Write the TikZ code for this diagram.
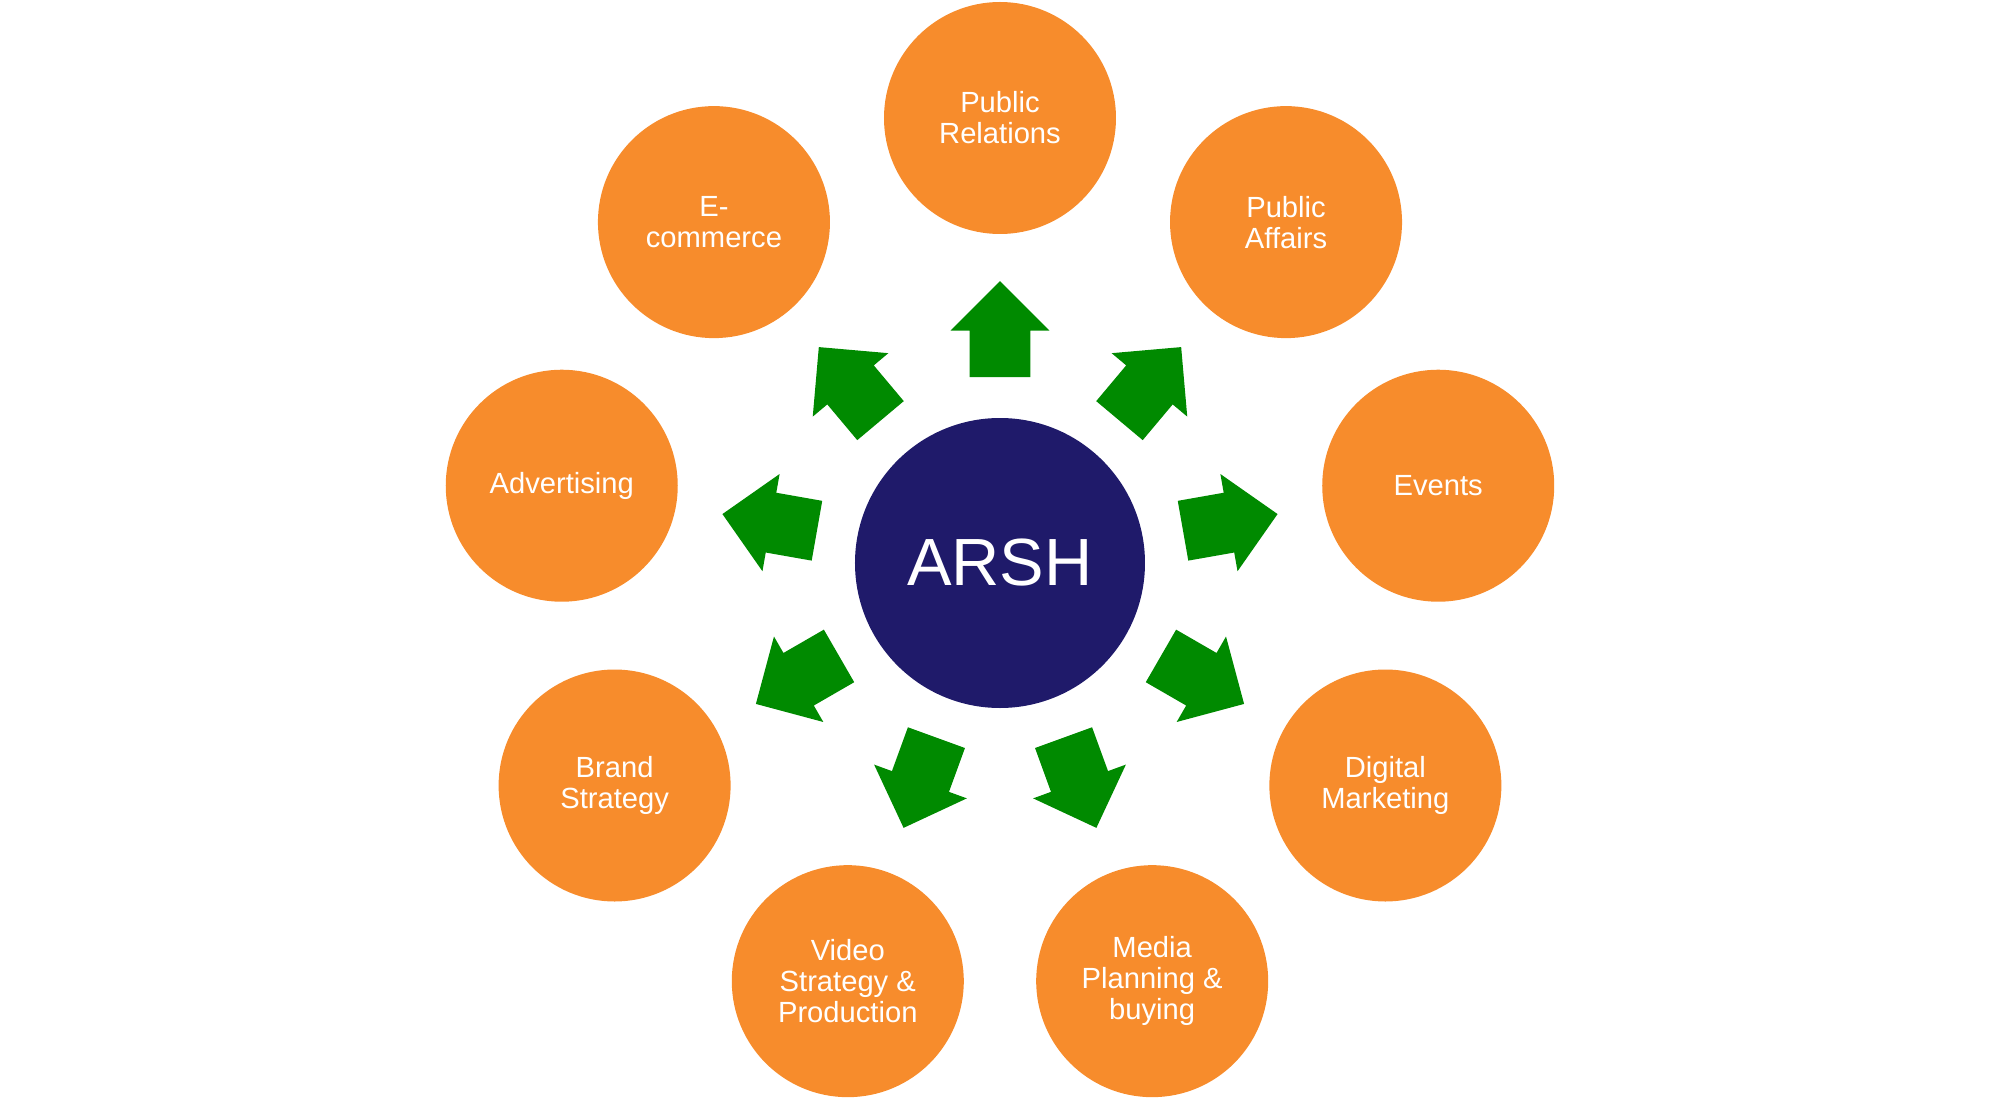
\documentclass[tikz,border=0pt]{standalone}
\usepackage{fontspec}
\setmainfont{Liberation Sans}
\usetikzlibrary{shapes.arrows}
\definecolor{arshnavy}{RGB}{31,26,106}
\definecolor{svcorange}{RGB}{247,140,44}
\definecolor{arrowgreen}{RGB}{0,138,0}

\tikzset{
  svc/.style={circle, fill=svcorange, text=white, minimum size=4.64cm, inner sep=0pt, align=center, font=\fontsize{16.6}{17.6}\selectfont},
  outarrow/.style={single arrow, fill=arrowgreen, draw=none, anchor=tail, minimum height=1.92cm, inner xsep=0pt, inner ysep=0.6cm, single arrow head extend=0.38cm},
}

\begin{document}
\begin{tikzpicture}
  \useasboundingbox (-20,-10.76) rectangle (20,11.26);
  \node[circle, fill=arshnavy, text=white, minimum size=5.8cm, inner sep=0pt, font=\fontsize{38}{40}\selectfont] (arsh) at (0,0) {ARSH};

  \node[svc] (pr) at (90:8.9) {Public\\Relations};
  \node[svc] (pa) at (50:8.9) {Public\\Affairs};
  \node[svc] (events) at (10:8.9) {Events};
  \node[svc] (digital) at (-30:8.9) {Digital\\Marketing};
  \node[svc] (media) at (-70:8.9) {Media\\Planning \&\\buying};
  \node[svc] (video) at (-110:8.9) {Video\\Strategy \&\\Production};
  \node[svc] (brand) at (-150:8.9) {Brand\\Strategy};
  \node[svc] (advert) at (170:8.9) {Advertising};
  \node[svc] (ecom) at (130:8.9) {E-\\commerce};

  \node[outarrow, rotate=90] (to-pr) at (90:3.71) {};
  \node[outarrow, rotate=50] (to-pa) at (50:3.71) {};
  \node[outarrow, rotate=10] (to-events) at (10:3.71) {};
  \node[outarrow, rotate=-30] (to-digital) at (-30:3.71) {};
  \node[outarrow, rotate=-70] (to-media) at (-70:3.71) {};
  \node[outarrow, rotate=-110] (to-video) at (-110:3.71) {};
  \node[outarrow, rotate=-150] (to-brand) at (-150:3.71) {};
  \node[outarrow, rotate=170] (to-advert) at (170:3.71) {};
  \node[outarrow, rotate=130] (to-ecom) at (130:3.71) {};
\end{tikzpicture}
\end{document}
